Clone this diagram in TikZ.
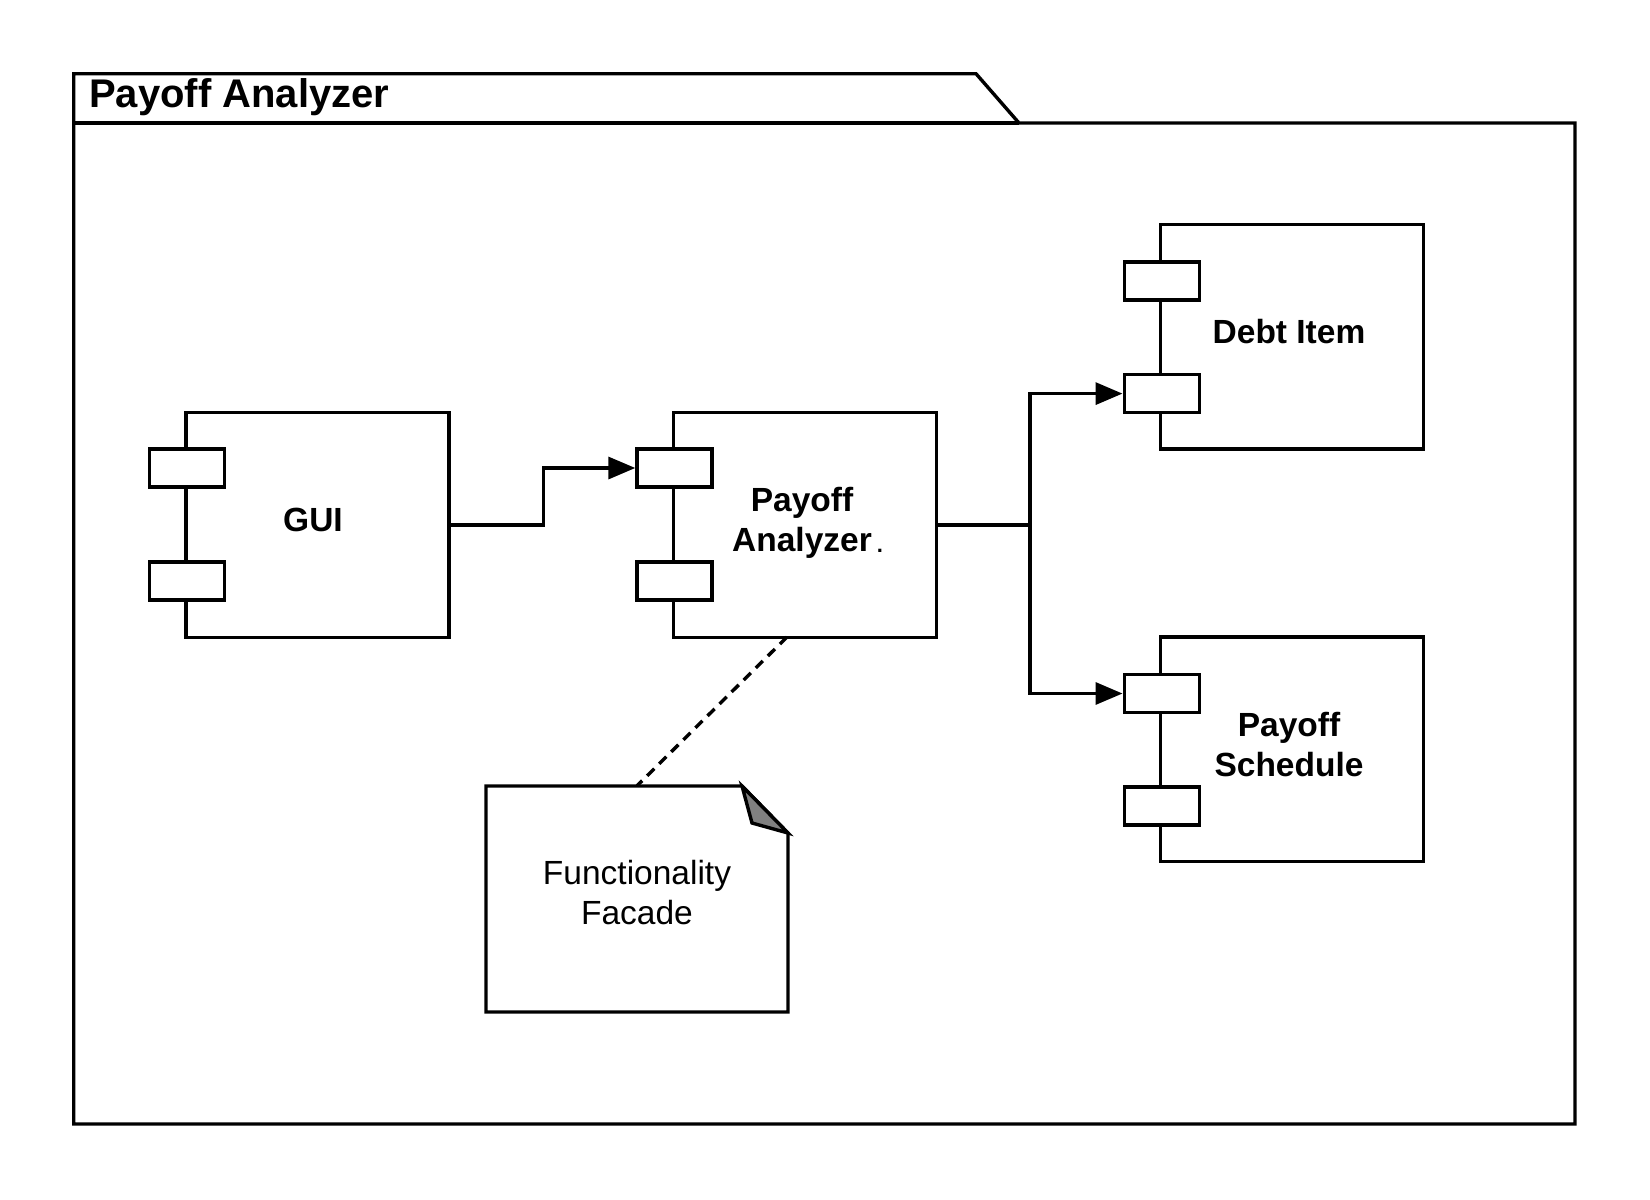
\documentclass[tikz,border=0pt]{standalone}
\usepackage{fontspec}
\setmainfont{Liberation Sans}
\usetikzlibrary{arrows.meta}
\begin{document}
\begin{tikzpicture}[x=1pt,y=-1pt,
  lw/.style={line width=3.4pt},
  comp/.style={lw,draw=black,fill=white,rectangle,minimum width=263pt,minimum height=224.5pt,inner sep=0pt},
  ctext/.style={inner sep=0pt,align=center,font=\fontsize{33.5}{40}\selectfont\bfseries},
  port/.style={lw,draw=black,fill=white,rectangle,minimum width=75pt,minimum height=37.7pt,inner sep=0pt},
  conn/.style={lw,line join=miter},
  arr/.style={conn,-{Triangle[length=27pt,width=22pt]}}
]
\useasboundingbox (0,0) rectangle (1650,1200);
% package frame
\draw[lw,line join=miter] (73.7,123) -- (73.7,73.7) -- (976,73.7) -- (1019,123) -- (1575,123) -- (1575,1124) -- (73.7,1124) -- cycle;
\draw[lw] (73.7,123) -- (1019,123);
\node[anchor=base west,inner sep=0pt,font=\fontsize{40}{44}\selectfont\bfseries] (title) at (89,107) {Payoff Analyzer};
% components
\node[comp] (gui) at (317.5,525) {};
\node[ctext] (guit) at (313,520) {GUI};
\node[port] (guip1) at (186.7,468) {};
\node[port] (guip2) at (186.7,581) {};
\node[comp] (pa) at (805,525) {};
\node[ctext] (pat) at (802,523) {Payoff\\Analyzer};
\node[port] (pap1) at (674.5,468) {};
\node[port] (pap2) at (674.5,581) {};
\node[inner sep=0pt,font=\fontsize{22}{22}\selectfont\bfseries] (dot) at (880,551) {.};
\node[comp] (debt) at (1292.25,336.6) {};
\node[ctext] (debtt) at (1289,332) {Debt Item};
\node[port] (dp1) at (1161.7,281) {};
\node[port] (dp2) at (1161.7,393.6) {};
\node[comp] (ps) at (1292.25,749.2) {};
\node[ctext] (pst) at (1289,745) {Payoff\\Schedule};
\node[port] (psp1) at (1161.7,693.5) {};
\node[port] (psp2) at (1161.7,806) {};
% note
\draw[lw,fill=white,line join=miter] (486,786) -- (742,786) -- (788,833) -- (788,1012) -- (486,1012) -- cycle;
\draw[lw,fill=gray,line join=miter] (742,786) -- (752,823) -- (788,833) -- cycle;
\node[minimum width=302pt,minimum height=226pt,inner sep=0pt] (note) at (637,899) {};
\node[inner sep=0pt,align=center,font=\fontsize{33.5}{40}\selectfont] (notet) at (637,893) {Functionality\\Facade};
% connectors
\draw[arr] (gui.east) -- ++(93,0) |- (pap1.west);
\coordinate (junc) at (1030,525);
\draw[conn] (pa.east) -- (junc);
\draw[arr] (junc) |- (dp2.west);
\draw[arr] (junc) |- (psp1.west);
\coordinate (dashstart) at (787,637);
\draw[lw,dash pattern=on 10pt off 7pt] (dashstart) -- (note.north);
\end{tikzpicture}
\end{document}
